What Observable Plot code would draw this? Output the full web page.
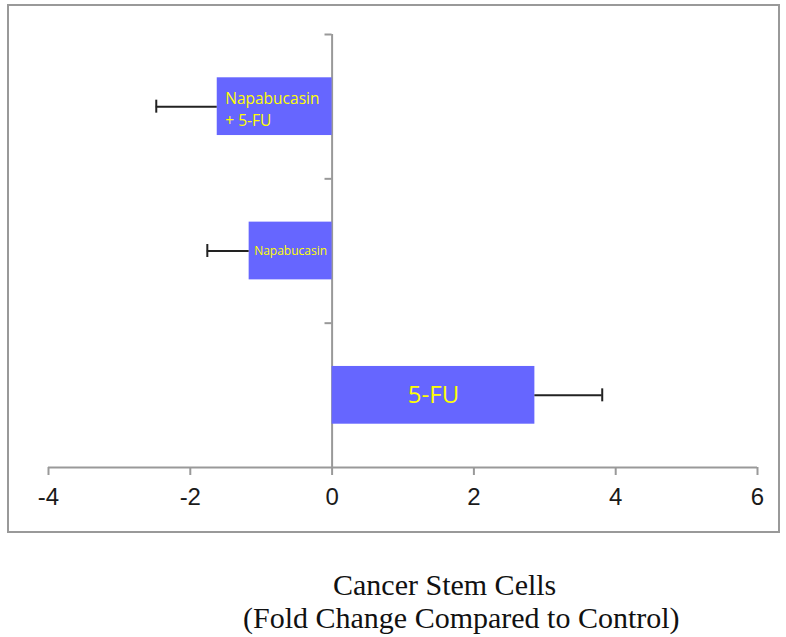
<!DOCTYPE html>
<html>
<head>
<meta charset="utf-8">
<script src="https://cdn.jsdelivr.net/npm/d3@7"></script>
<script src="https://cdn.jsdelivr.net/npm/@observablehq/plot@0.6"></script>
<style>
  html, body { margin: 0; padding: 0; background: #fff; width: 786px; height: 637px; overflow: hidden; }
  #frame { position: absolute; left: 7px; top: 4px; width: 773px; height: 529px; border: 2px solid #999; box-sizing: border-box; }
  #chart { position: absolute; left: 0; top: 0; }
  .cap { position: absolute; font-family: "Liberation Serif", "DejaVu Serif", serif; font-size: 30px; line-height: 30px; color: #111; white-space: nowrap; }
</style>
</head>
<body>
<div id="frame"></div>
<div id="chart"></div>
<div class="cap" id="cap1" style="left:333px; top:570px;">Cancer Stem Cells</div>
<div class="cap" id="cap2" style="left:243px; top:603px;">(Fold Change Compared to Control)</div>
<script>
const categories = ["Napabucasin + 5-FU", "Napabucasin", "5-FU"];
const barLabels = ["Napabucasin\n+ 5-FU", "Napabucasin", "5-FU"];
const foldChange = [-1.62, -1.17, 2.86];
const errorSize = [0.86, 0.59, 0.95];
const xTicks = [-4, -2, 0, 2, 4, 6];

const data = categories.map((c, i) => ({
  category: c, i, label: barLabels[i], value: foldChange[i], err: errorSize[i],
  end: foldChange[i] + Math.sign(foldChange[i]) * errorSize[i]
}));

const chart = Plot.plot({
  width: 786,
  height: 540,
  marginTop: 34,
  marginBottom: 73,
  marginLeft: 48,
  marginRight: 29,
  x: { domain: [-4, 6] },
  y: { domain: [0, categories.length], reverse: true, axis: null },
  style: { background: "transparent", overflow: "visible" },
  marks: [
    // x axis line and ticks
    Plot.ruleY([categories.length], { x1: -4, x2: 6, stroke: "#999", strokeWidth: 2 }),
    Plot.axisX({
      ticks: xTicks, tickSize: 8, tickPadding: 12, stroke: "#999", strokeWidth: 2, strokeOpacity: 1,
      tickFormat: d => String(d),
      fontSize: 24, fill: "#1a1a1a",
      fontFamily: "'Liberation Sans', Arial, sans-serif",
      label: null
    }),
    // y axis at zero with category boundary ticks
    Plot.ruleX([0], { y1: 0, y2: categories.length, stroke: "#999", strokeWidth: 2 }),
    Plot.ruleY(d3.range(categories.length), { x1: -0.1, x2: 0, stroke: "#999", strokeWidth: 2 }),
    // bars
    Plot.rectX(data, { x1: 0, x2: "value", y1: d => d.i + 0.3, y2: d => d.i + 0.7, fill: "#6666ff" }),
    // error bars
    Plot.ruleY(data, { y: d => d.i + 0.5, x1: "value", x2: "end", stroke: "#222", strokeWidth: 2 }),
    Plot.ruleX(data, { x: "end", y1: d => d.i + 0.455, y2: d => d.i + 0.545, stroke: "#222", strokeWidth: 2 }),
    // labels
    Plot.text(data.filter(d => d.i === 0), {
      x: "value", y: d => d.i + 0.5, text: "label", textAnchor: "start", dx: 8, dy: 1,
      fill: "#ffff00", fontSize: 15.5, lineHeight: 1.45, fontFamily: "'Open Sans', 'Noto Sans', sans-serif"
    }),
    Plot.text(data.filter(d => d.i === 1), {
      x: d => d.value / 2, y: d => d.i + 0.5, text: "label",
      fill: "#ffff00", fontSize: 12, fontFamily: "'Open Sans', 'Noto Sans', sans-serif"
    }),
    Plot.text(data.filter(d => d.i === 2), {
      x: d => d.value / 2, y: d => d.i + 0.5, text: "label",
      fill: "#ffff00", fontSize: 24, fontFamily: "'Open Sans', 'Noto Sans', sans-serif"
    })
  ]
});
document.getElementById("chart").appendChild(chart);
</script>
</body>
</html>
